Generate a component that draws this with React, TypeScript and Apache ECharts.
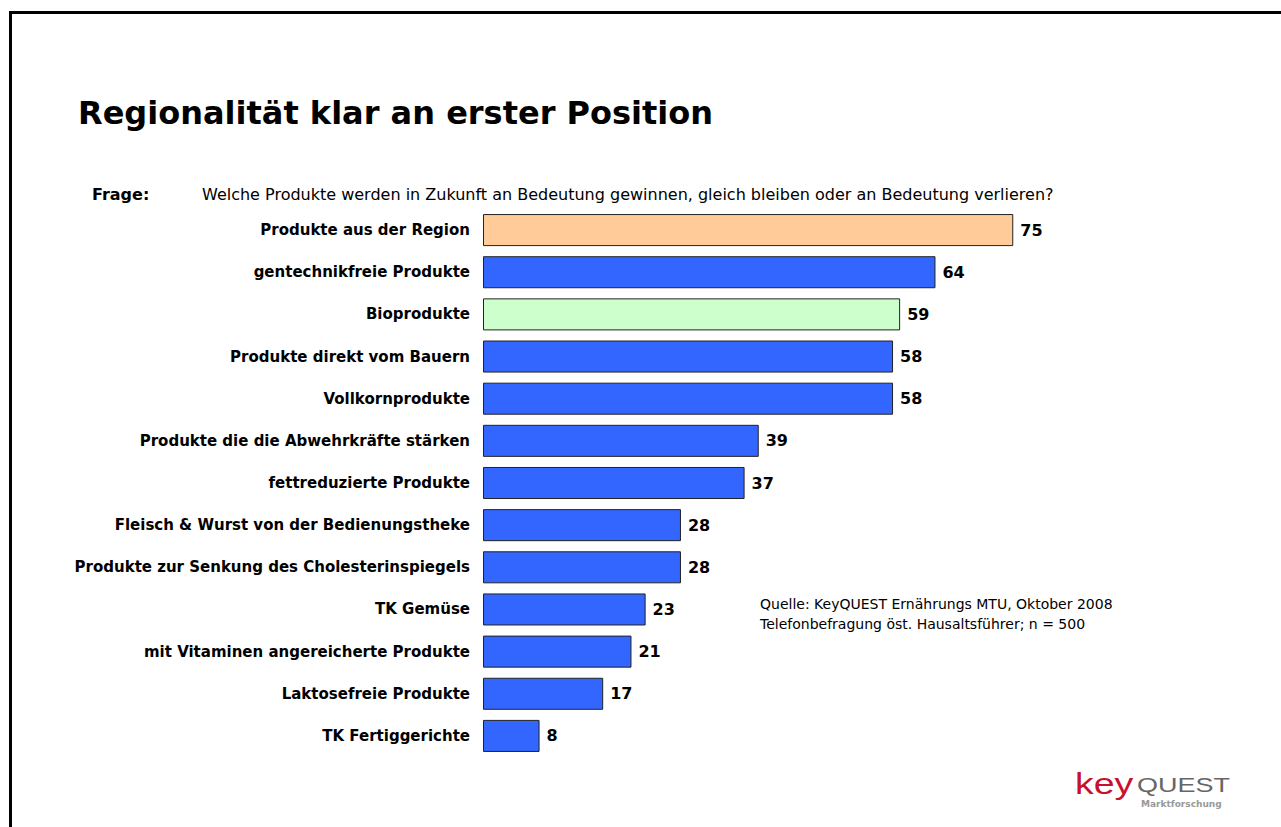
import React, { useEffect, useRef } from "react";
import * as echarts from "echarts";

const categories = [
  "Produkte aus der Region",
  "gentechnikfreie Produkte",
  "Bioprodukte",
  "Produkte direkt vom Bauern",
  "Vollkornprodukte",
  "Produkte die die Abwehrkräfte stärken",
  "fettreduzierte Produkte",
  "Fleisch & Wurst von der Bedienungstheke",
  "Produkte zur Senkung des Cholesterinspiegels",
  "TK Gemüse",
  "mit Vitaminen angereicherte Produkte",
  "Laktosefreie Produkte",
  "TK Fertiggerichte",
];
const values = [75, 64, 59, 58, 58, 39, 37, 28, 28, 23, 21, 17, 8];
const barColors = [
  "#FFCC99", "#3366FF", "#CCFFCC", "#3366FF", "#3366FF", "#3366FF", "#3366FF",
  "#3366FF", "#3366FF", "#3366FF", "#3366FF", "#3366FF", "#3366FF",
];

const title = "Regionalität klar an erster Position";
const frageLabel = "Frage:";
const frageText =
  "Welche Produkte werden in Zukunft an Bedeutung gewinnen, gleich bleiben oder an Bedeutung verlieren?";
const sourceLines = [
  "Quelle: KeyQUEST Ernährungs MTU, Oktober 2008",
  "Telefonbefragung öst. Hausaltsführer; n = 500",
];

const FONT = "DejaVu Sans, Verdana, sans-serif";
const LOGO_FONT = "Liberation Sans, Arial, sans-serif";

export default function App() {
  const ref = useRef<HTMLDivElement>(null);
  useEffect(() => {
    if (!ref.current) return;
    const chart = echarts.init(ref.current, undefined, { renderer: "svg" });
    chart.setOption({
      animation: false,
      backgroundColor: "#ffffff",
      grid: { left: 483, top: 209, width: 707, height: 548 },
      xAxis: {
        type: "value",
        min: 0,
        max: 100,
        show: false,
      },
      yAxis: {
        type: "category",
        data: categories,
        inverse: true,
        axisLine: { show: false },
        axisTick: { show: false },
        axisLabel: {
          margin: 13,
          fontFamily: FONT,
          fontWeight: "bold",
          fontSize: 15,
          color: "#000",
        },
      },
      series: [
        {
          type: "bar",
          barCategoryGap: "24%",
          data: values.map((v, i) => ({
            value: v,
            itemStyle: { color: barColors[i], borderColor: "#222", borderWidth: 1 },
          })),
          label: {
            show: true,
            position: "right",
            distance: 7,
            fontFamily: FONT,
            fontWeight: "bold",
            fontSize: 16,
            color: "#000",
          },
        },
      ],
      graphic: [
        {
          type: "rect",
          shape: { x: 10.5, y: 12.5, width: 1400, height: 1000 },
          style: { fill: "none", stroke: "#000", lineWidth: 3 },
          silent: true,
        },
        {
          type: "text",
          x: 78,
          y: 113,
          style: {
            text: title,
            fontFamily: FONT,
            fontWeight: "bold",
            fontSize: 32,
            fill: "#000",
            verticalAlign: "middle",
          },
        },
        {
          type: "text",
          x: 92,
          y: 194,
          style: {
            text: frageLabel,
            fontFamily: FONT,
            fontWeight: "bold",
            fontSize: 16,
            fill: "#000",
            verticalAlign: "middle",
          },
        },
        {
          type: "text",
          x: 202,
          y: 194,
          style: {
            text: frageText,
            fontFamily: FONT,
            fontSize: 16,
            fill: "#000",
            verticalAlign: "middle",
          },
        },
        {
          type: "text",
          x: 760,
          y: 604,
          style: {
            text: sourceLines[0],
            fontFamily: FONT,
            fontSize: 14,
            fill: "#000",
            verticalAlign: "middle",
          },
        },
        {
          type: "text",
          x: 760,
          y: 624,
          style: {
            text: sourceLines[1],
            fontFamily: FONT,
            fontSize: 14,
            fill: "#000",
            verticalAlign: "middle",
          },
        },
        {
          type: "text",
          x: 1075,
          y: 783,
          scaleX: 1.25,
          style: {
            text: "key",
            fontFamily: LOGO_FONT,
            fontSize: 30,
            fill: "#C8102E",
            verticalAlign: "middle",
          },
        },
        {
          type: "text",
          x: 1137,
          y: 785,
          scaleX: 1.35,
          style: {
            text: "QUEST",
            fontFamily: LOGO_FONT,
            fontSize: 20,
            fill: "#666",
            verticalAlign: "middle",
          },
        },
        {
          type: "text",
          x: 1141,
          y: 804,
          style: {
            text: "Marktforschung",
            fontFamily: "DejaVu Sans, sans-serif",
            fontWeight: "bold",
            fontSize: 9,
            fill: "#999",
            verticalAlign: "middle",
          },
        },
      ],
    });
    return () => chart.dispose();
  }, []);
  return (
    <div
      ref={ref}
      style={{ position: "fixed", left: 0, top: 0, width: 1281, height: 827 }}
    />
  );
}
